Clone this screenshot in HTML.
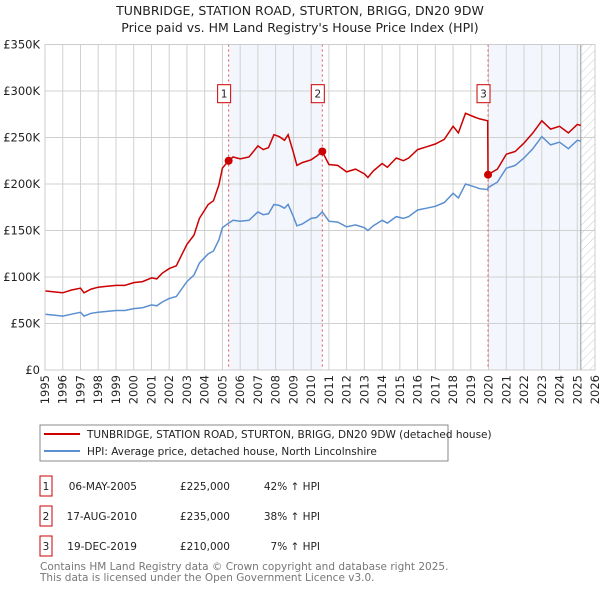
<!DOCTYPE html>
<html><head><meta charset="utf-8"><style>
body{margin:0;background:#fff;font-family:"Liberation Sans","DejaVu Sans",sans-serif;}
svg text{font-family:"DejaVu Sans","Liberation Sans",sans-serif;}
</style></head><body>
<svg id="c" width="600" height="590" viewBox="0 0 600 590">
<defs><pattern id="hatch" width="6" height="6" patternUnits="userSpaceOnUse" patternTransform="rotate(45)"><line x1="0" y1="0" x2="0" y2="6" stroke="#ccc" stroke-width="1"/></pattern></defs>
<text x="300" y="15" text-anchor="middle" font-size="12.5" fill="#222">TUNBRIDGE, STATION ROAD, STURTON, BRIGG, DN20 9DW</text>
<text x="300" y="32" text-anchor="middle" font-size="12.5" fill="#222">Price paid vs. HM Land Registry's House Price Index (HPI)</text>
<g id="plot"></g>
<rect x="40" y="425" width="408" height="36" fill="#fff" stroke="#888"/>
<line x1="44" y1="434" x2="80" y2="434" stroke="#cc0000" stroke-width="2"/>
<text x="87" y="438" font-size="10.5" fill="#222">TUNBRIDGE, STATION ROAD, STURTON, BRIGG, DN20 9DW (detached house)</text>
<line x1="44" y1="451" x2="80" y2="451" stroke="#5b8fd0" stroke-width="2"/>
<text x="87" y="455" font-size="10.5" fill="#222">HPI: Average price, detached house, North Lincolnshire</text>
<g font-size="10.5" fill="#222">
<rect x="40" y="476" width="12" height="20" fill="#fff" stroke="#c00"/><text x="46" y="490" text-anchor="middle">1</text>
<text x="137" y="490" text-anchor="end">06-MAY-2005</text><text x="230" y="490" text-anchor="end">£225,000</text><text x="320" y="490" text-anchor="end">42% ↑ HPI</text>
<rect x="40" y="506" width="12" height="20" fill="#fff" stroke="#c00"/><text x="46" y="520" text-anchor="middle">2</text>
<text x="137" y="520" text-anchor="end">17-AUG-2010</text><text x="230" y="520" text-anchor="end">£235,000</text><text x="320" y="520" text-anchor="end">38% ↑ HPI</text>
<rect x="40" y="536" width="12" height="20" fill="#fff" stroke="#c00"/><text x="46" y="550" text-anchor="middle">3</text>
<text x="137" y="550" text-anchor="end">19-DEC-2019</text><text x="230" y="550" text-anchor="end">£210,000</text><text x="320" y="550" text-anchor="end">7% ↑ HPI</text>
</g>
<text x="40" y="570" font-size="10.5" fill="#777">Contains HM Land Registry data © Crown copyright and database right 2025.</text>
<text x="40" y="581" font-size="10.5" fill="#777">This data is licensed under the Open Government Licence v3.0.</text>
</svg>
<script>
const years=[1995.0,1995.5,1996.0,1996.5,1997.0,1997.2,1997.6,1998.0,1998.5,1999.0,1999.5,2000.0,2000.5,2001.0,2001.3,2001.6,2002.0,2002.4,2003.0,2003.4,2003.7,2004.2,2004.5,2004.8,2005.0,2005.35,2005.6,2006.0,2006.5,2007.0,2007.3,2007.6,2007.9,2008.2,2008.5,2008.7,2009.0,2009.2,2009.5,2010.0,2010.3,2010.63,2011.0,2011.5,2012.0,2012.5,2013.0,2013.2,2013.5,2014.0,2014.3,2014.8,2015.2,2015.5,2016.0,2016.5,2017.0,2017.5,2018.0,2018.3,2018.7,2019.2,2019.5,2019.95,2019.97,2020.5,2021.0,2021.5,2022.0,2022.5,2023.0,2023.5,2024.0,2024.5,2025.0,2025.2];
const hpiValues=[60,59,58,60,62,58,61,62,63,64,64,66,67,70,69,73,77,79,95,102,115,125,128,140,153,158,161,160,161,170,167,168,178,177,174,178,165,155,157,163,164,170,160,159,154,156,153,150,155,161,158,165,163,165,172,174,176,180,190,185,200,197,195,194,196,202,217,220,228,238,251,242,245,238,247,246];
const propertyValues=[85,84,83,86,88,83,87,89,90,91,91,94,95,99,98,104,109,112,135,145,163,178,182,199,217,225,229,227,229,241,237,239,253,251,247,253,234,220,223,226,230,235,221,220,213,216,211,207,214,222,218,228,225,228,237,240,243,248,262,255,276,272,270,268,210,216,232,235,244,255,268,259,262,255,264,263];
const saleYears=[2005.35,2010.63,2019.97];
const salePrices=[225,235,210];
const saleLabels=["1","2","3"];
const yTicks=[0,50,100,150,200,250,300,350];
const xTicks=[1995,1996,1997,1998,1999,2000,2001,2002,2003,2004,2005,2006,2007,2008,2009,2010,2011,2012,2013,2014,2015,2016,2017,2018,2019,2020,2021,2022,2023,2024,2025,2026];
const X0=45,X1=595,Y0=370,Y1=44.5;
const xs=v=>X0+(v-1995)/31*(X1-X0);
const ys=v=>Y0-v/350*(Y0-Y1);
const NS="http://www.w3.org/2000/svg";
const g=document.getElementById('plot');
function mk(t,a,p){const e=document.createElementNS(NS,t);for(const k in a)e.setAttribute(k,a[k]);(p||g).appendChild(e);return e;}
let e;
e=mk('rect',{x:X0,y:Y1,width:X1-X0,height:Y0-Y1,fill:'#fff'});


e=mk('rect',{x:xs(saleYears[0]),y:Y1,width:xs(saleYears[1])-xs(saleYears[0]),height:Y0-Y1,fill:'#eef3fc',opacity:0.7});


e=mk('rect',{x:xs(saleYears[2]),y:Y1,width:xs(2025.2)-xs(saleYears[2]),height:Y0-Y1,fill:'#eef3fc',opacity:0.7});


e=mk('rect',{x:xs(2025.2),y:Y1,width:X1-xs(2025.2),height:Y0-Y1,fill:'url(#hatch)'});


xTicks.forEach(t=>{
 e=mk('line',{x1:xs(t),x2:xs(t),y1:Y1,y2:Y0,stroke:'#d0d0d0'});
 
 
 e=mk('text',{x:0,y:0,transform:`translate(${xs(t)+4},${Y0+5}) rotate(-90)`,'text-anchor':'end','font-size':'11.5',fill:'#222'});
 e.textContent=t;
 
 
});
yTicks.forEach(t=>{
 e=mk('line',{x1:X0,x2:X1,y1:ys(t),y2:ys(t),stroke:'#d0d0d0'});
 
 
 e=mk('text',{x:X0-5,y:ys(t)+4,'text-anchor':'end','font-size':'11.5',fill:'#222'});
 e.textContent=t===0?'£0':'£'+t+'K';
 
 
});
e=mk('line',{x1:xs(2025.2),x2:xs(2025.2),y1:Y1,y2:Y0,stroke:'#999'});


saleYears.forEach((s,i)=>{
 e=mk('line',{x1:xs(s),x2:xs(s),y1:Y1,y2:Y0,stroke:'#e05050','stroke-dasharray':'2,3'});
 
 
});
const pts=a=>years.map((y,i)=>xs(y).toFixed(1)+','+ys(a[i]).toFixed(1)).join(' ');
e=mk('polyline',{points:pts(hpiValues),fill:'none',stroke:'#5b8fd0','stroke-width':1.5});


e=mk('polyline',{points:pts(propertyValues),fill:'none',stroke:'#cc0000','stroke-width':1.5});


saleYears.forEach((s,i)=>{
 e=mk('circle',{cx:xs(s),cy:ys(salePrices[i]),r:4,fill:'#cc0000'});
 
 
 e=mk('rect',{x:xs(s)-11,y:ys(310)+3,width:13,height:18,fill:'#fff',stroke:'#c00'});
 
 
 e=mk('text',{x:xs(s)-4.5,y:ys(310)+16,'text-anchor':'middle','font-size':'10.5',fill:'#222'});
 e.textContent=saleLabels[i];
 
 
});
e=mk('rect',{x:X0,y:Y1,width:X1-X0,height:Y0-Y1,fill:'none',stroke:'#ccc'});


</script>
</body></html>
